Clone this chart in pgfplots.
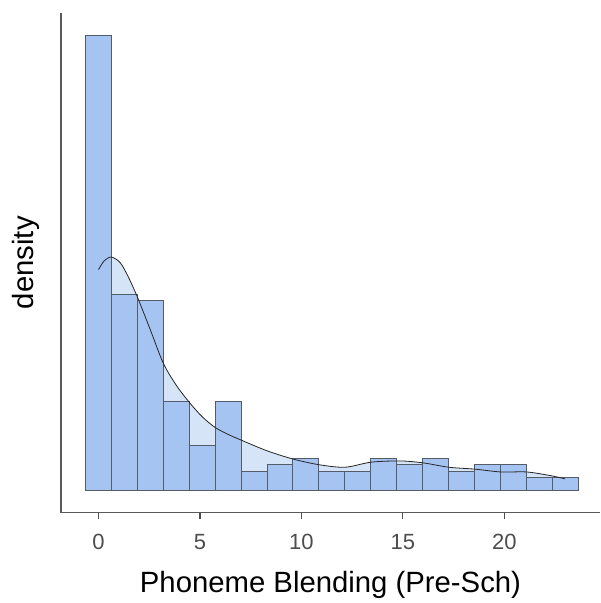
\documentclass[border=0pt]{standalone}
\usepackage{pgfplots}
\pgfplotsset{compat=1.18}
\usepackage{fontspec}
\setmainfont{Liberation Sans}
\definecolor{barfill}{RGB}{166,196,242}
\definecolor{barline}{RGB}{85,92,105}
\definecolor{densfill}{RGB}{214,228,248}
\definecolor{axgray}{RGB}{77,77,77}
\begin{document}
\begin{tikzpicture}
\begin{axis}[
  scale only axis, width=539pt, height=500pt,
  xmin=-1.85, xmax=24.72, ymin=-3.6, ymax=75.6,
  axis x line*=bottom, axis y line*=left,
  axis line style={black!65, line width=1.2pt},
  xtick={0,5,10,15,20}, ytick=\empty,
  tick align=outside, major tick length=6.3pt,
  tick style={black!70, line width=1.2pt},
  /pgf/number format/assume math mode=true,
  ticklabel style={font=\fontsize{22}{26}\selectfont, text=axgray},
  xticklabel style={yshift=-12pt},
  xlabel={Phoneme Blending (Pre-Sch)}, ylabel={density},
  label style={font=\fontsize{29.3}{34}\selectfont},
  xlabel style={at={(axis description cs:0.5,-0.1586)}, anchor=base},
  ylabel style={at={(axis description cs:-0.0501,0.5)}, anchor=base},
]
\coordinate (O) at (rel axis cs:0,0);
\addplot[draw=none, fill=densfill, smooth, tension=0.5] coordinates {
(0,34.9) (0.28,36.3) (0.63,36.9) (1.07,36.0) (1.46,33.8) (1.91,30.6)
(2.55,25.4) (3.19,20.1) (3.83,16.6) (4.47,13.9) (5.11,11.6) (5.75,9.9) (6.39,8.8) (7.03,7.9)
(8.31,6.2) (9.59,4.9) (10.87,4.0) (12.15,3.6) (13.43,4.4) (14.86,4.6)
(15.99,4.3) (17.27,3.6) (18.55,3.3) (19.84,2.85) (21.12,2.85) (22.40,2.2)
(23.0,1.75)} \closedcycle;
\addplot[ybar interval, fill=barfill, draw=barline, line width=0.9pt] coordinates {
(-0.639,72) (0.639,31) (1.917,30) (3.194,14) (4.472,7) (5.750,14)
(7.028,3) (8.306,4) (9.583,5) (10.861,3) (12.139,3) (13.417,5)
(14.694,4) (15.972,5) (17.250,3) (18.528,4) (19.806,4) (21.083,2)
(22.361,2) (23.639,2)};
\addplot[black!85, line width=0.8pt, smooth, tension=0.5] coordinates {
(0,34.9) (0.28,36.3) (0.63,36.9) (1.07,36.0) (1.46,33.8) (1.91,30.6)
(2.55,25.4) (3.19,20.1) (3.83,16.6) (4.47,13.9) (5.11,11.6) (5.75,9.9) (6.39,8.8) (7.03,7.9)
(8.31,6.2) (9.59,4.9) (10.87,4.0) (12.15,3.6) (13.43,4.4) (14.86,4.6)
(15.99,4.3) (17.27,3.6) (18.55,3.3) (19.84,2.85) (21.12,2.85) (22.40,2.2)
(23.0,1.75)};
\end{axis}
\pgfresetboundingbox
\path (O) ++(-61pt,-90.3pt) rectangle ++(601pt,603pt);
\end{tikzpicture}
\end{document}
